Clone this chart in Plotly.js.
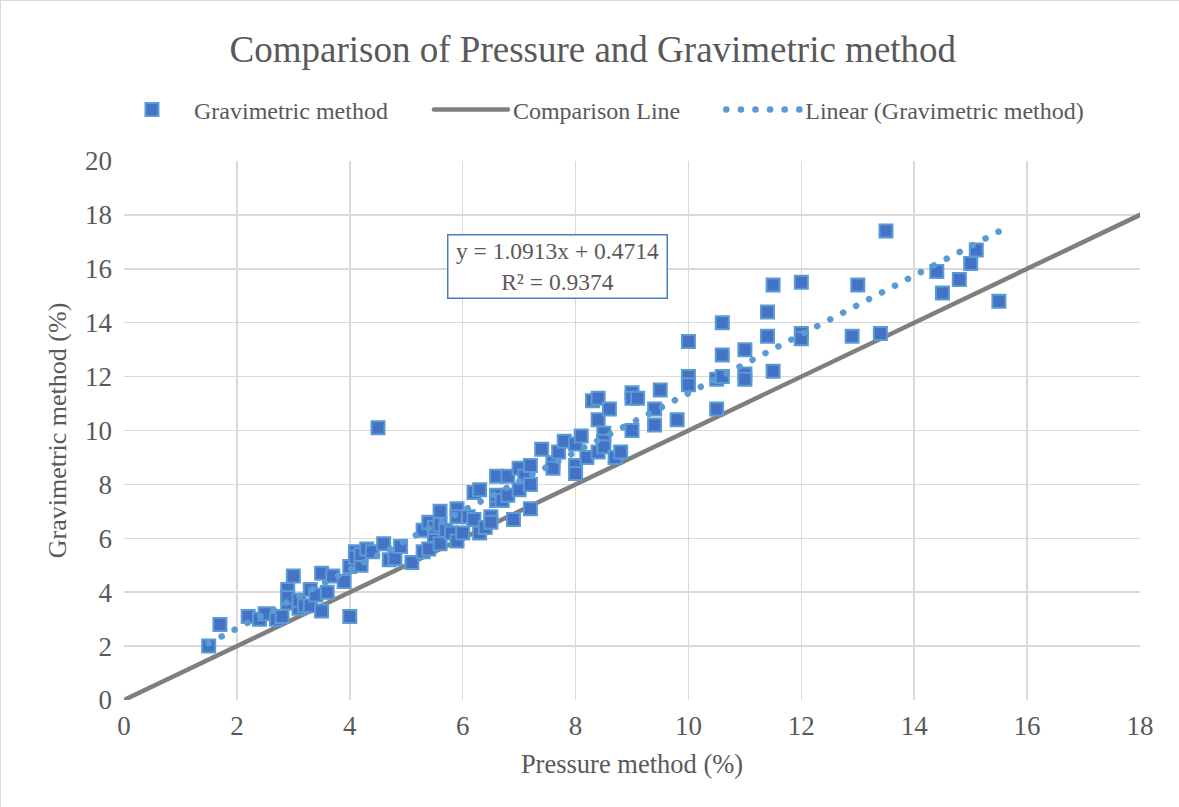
<!DOCTYPE html>
<html>
<head>
<meta charset="utf-8">
<script src="https://cdn.plot.ly/plotly-3.0.1.min.js"></script>
<style>
  html, body { margin: 0; padding: 0; background: #fff; }
  #chart { width: 1179px; height: 807px; box-sizing: border-box; border: 1px solid #D9D9D9; }
  path.js-line { stroke-linecap: round !important; }
</style>
</head>
<body>
<div id="chart"></div>
<script>
// Pressure method (%) values for each sample
const pressureX = [
  1.5, 1.7, 2.2, 2.4, 2.5, 2.7, 2.8, 2.9, 2.9, 2.9,
  3.0, 3.1, 3.1, 3.2, 3.3, 3.3, 3.4, 3.5, 3.5, 3.6,
  3.7, 3.9, 4.0, 4.0, 4.1, 4.1, 4.2, 4.2, 4.3, 4.4,
  4.5, 4.6, 4.7, 4.8, 4.9, 5.1, 5.3, 5.3, 5.4, 5.4,
  5.5, 5.5, 5.6, 5.6, 5.6, 5.7, 5.8, 5.9, 5.9, 5.9,
  6.0, 6.1, 6.2, 6.2, 6.3, 6.3, 6.4, 6.5, 6.5, 6.6,
  6.6, 6.6, 6.7, 6.8, 6.8, 6.9, 7.0, 7.0, 7.1, 7.2,
  7.2, 7.2, 7.4, 7.6, 7.6, 7.7, 7.8, 8.0, 8.0, 8.0,
  8.1, 8.2, 8.3, 8.4, 8.4, 8.4, 8.5, 8.5, 8.5, 8.6,
  8.7, 8.8, 9.0, 9.0, 9.1, 9.0, 9.4, 9.4, 9.5, 9.8,
  10.0, 10.0, 10.0, 10.5, 10.6, 10.5, 10.6, 10.6, 11.0, 11.0,
  11.0, 11.4, 11.4, 11.5, 11.5, 12.0, 12.0, 12.0, 12.9, 13.0,
  13.4, 13.5, 14.4, 14.5, 14.8, 15.0, 15.1, 15.5
];
// Gravimetric method (%) values for each sample
const gravimetricY = [
  2.0, 2.8, 3.1, 3.0, 3.2, 3.0, 3.1, 3.6, 4.1, 3.8,
  4.6, 3.4, 3.7, 3.5, 4.1, 3.5, 3.9, 4.7, 3.3, 4.0,
  4.6, 4.4, 3.1, 4.95, 5.5, 5.3, 5.0, 5.4, 5.6, 5.5,
  10.1, 5.8, 5.2, 5.25, 5.7, 5.1, 5.5, 6.3, 6.6, 5.6,
  6.1, 6.4, 7.0, 6.5, 5.8, 6.3, 6.2, 7.1, 5.9, 6.8,
  6.2, 6.8, 7.7, 6.7, 7.8, 6.2, 6.4, 6.8, 6.6, 8.3,
  7.4, 7.6, 7.4, 8.3, 7.6, 6.7, 7.8, 8.6, 8.3, 8.7,
  8.0, 7.1, 9.3, 8.8, 8.6, 9.2, 9.6, 9.5, 8.7, 8.4,
  9.8, 9.0, 11.1, 11.2, 10.4, 9.2, 9.9, 9.6, 9.4, 10.8,
  9.0, 9.2, 11.4, 11.2, 11.2, 10.0, 10.8, 10.2, 11.5, 10.4,
  13.3, 12.0, 11.7, 11.9, 12.0, 10.8, 14.0, 12.8, 13.0, 12.1,
  11.9, 14.4, 13.5, 15.4, 12.2, 15.5, 13.6, 13.4, 13.5, 15.4,
  13.6, 17.4, 15.9, 15.1, 15.6, 16.2, 16.7, 14.8
];
// Comparison (1:1) line end points
const comparisonX = [0, 18];
const comparisonY = [0, 18];
// Linear trendline end points (y = 1.0913x + 0.4714 over the data range)
const trendX = [1.5, 15.5];
const trendY = [2.108, 17.387];
const equationText = "y = 1.0913x + 0.4714<br>R² = 0.9374";
const seriesNames = ["Gravimetric method", "Comparison Line", "Linear (Gravimetric method)"];

const FONT = "Liberation Serif, Times New Roman, serif";
const GREY = "#595959";
const PAD = "\u00A0".repeat(6);

const traces = [
  {
    x: comparisonX, y: comparisonY, mode: "lines", type: "scatter",
    name: seriesNames[1] + PAD, legendrank: 2,
    line: { color: "#7F7F7F", width: 4.5 }
  },
  {
    x: pressureX, y: gravimetricY, mode: "markers", type: "scatter",
    name: seriesNames[0] + PAD, legendrank: 1,
    marker: { symbol: "square", size: 13, color: "#4472C4", line: { color: "#5B9BD5", width: 2 } }
  },
  {
    x: trendX, y: trendY, mode: "lines", type: "scatter",
    name: seriesNames[2], legendrank: 3,
    line: { color: "#5B9BD5", width: 6.5, dash: "0.1px,14.5px" }
  }
];

const layout = {
  width: 1179, height: 807,
  paper_bgcolor: "#fff", plot_bgcolor: "#fff",
  margin: { l: 123, r: 40, t: 160, b: 108 },
  font: { family: FONT, color: GREY, size: 24 },
  title: {
    text: "Comparison of Pressure and Gravimetric method",
    font: { family: FONT, size: 37, color: GREY },
    x: 0.502, xanchor: "center", y: 0.94, yanchor: "middle"
  },
  showlegend: true,
  legend: {
    orientation: "h", x: 0.468, xanchor: "center", y: 1.095, yanchor: "middle",
    font: { family: FONT, size: 24, color: GREY },
    bgcolor: "rgba(0,0,0,0)", itemwidth: 74
  },
  xaxis: {
    range: [0, 18], dtick: 2, tick0: 0,
    showgrid: true, gridcolor: "#D9D9D9", gridwidth: 1.5,
    zeroline: false, showline: false, ticks: "",
    tickfont: { family: FONT, size: 27, color: GREY },
    ticklabelstandoff: 7,
    title: { text: "Pressure method (%)", font: { family: FONT, size: 26.5, color: GREY }, standoff: 14 },
    fixedrange: true
  },
  yaxis: {
    range: [0, 20], dtick: 2, tick0: 0,
    showgrid: true, gridcolor: "#D9D9D9", gridwidth: 1.5,
    zeroline: false, showline: false, ticks: "",
    tickfont: { family: FONT, size: 27, color: GREY },
    ticklabelstandoff: 11,
    title: { text: "Gravimetric method (%)", font: { family: FONT, size: 26, color: GREY }, standoff: 10 },
    fixedrange: true
  },
  annotations: [{
    x: 7.68, y: 16.07, xref: "x", yref: "y",
    text: equationText, showarrow: false,
    font: { family: FONT, size: 23.5, color: GREY },
    bgcolor: "#fff", bordercolor: "#4A7EBB", borderwidth: 1.5,
    width: 216, height: 60, borderpad: 1, align: "center"
  }],
  hovermode: false
};

Plotly.newPlot("chart", traces, layout, { displayModeBar: false, staticPlot: true });
</script>
</body>
</html>
